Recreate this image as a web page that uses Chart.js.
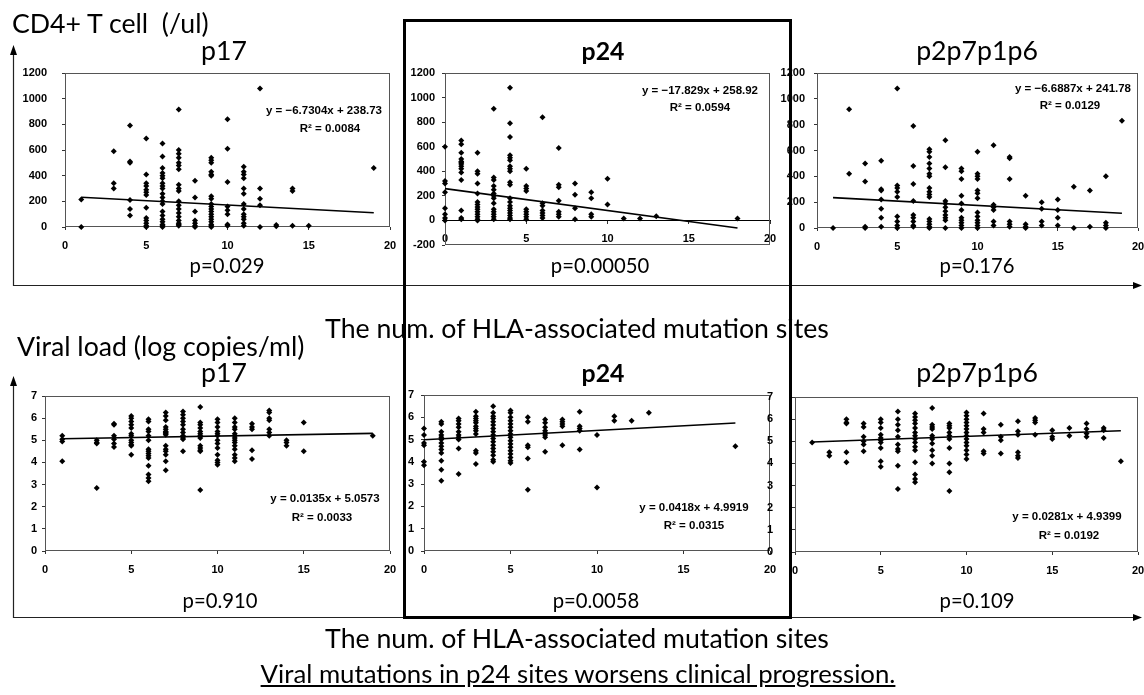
<!DOCTYPE html>
<html><head><meta charset="utf-8">
<script src="https://cdn.jsdelivr.net/npm/chart.js@4.4.1/dist/chart.umd.min.js"></script>
<style>
html,body{margin:0;padding:0;background:#fff;}
#wrap{position:relative;width:1144px;height:695px;overflow:hidden;background:#fff;}
#wrap canvas{position:absolute;}
.t{position:absolute;white-space:pre;color:#000;line-height:1.2;}
#wrap svg{position:absolute;left:0;top:0;}
</style></head><body><div id="wrap"></div>
<script>
// ---------------- DATA ----------------
const panelTitles = ['p17', 'p24', 'p2p7p1p6'];
const rowLabels = ['CD4+ T cell  (/ul)', 'Viral load (log copies/ml)'];
const xAxisTitle = 'The num. of HLA-associated mutation sites';
const conclusion = 'Viral mutations in p24 sites worsens clinical progression.';
const pValuesCD4 = ['p=0.029', 'p=0.00050', 'p=0.176'];
const pValuesVL = ['p=0.910', 'p=0.0058', 'p=0.109'];

const xTickValues = [0, 5, 10, 15, 20];
const cd4TickValues = [0, 200, 400, 600, 800, 1000, 1200];
const cd4P24TickValues = [-200, 0, 200, 400, 600, 800, 1000, 1200];
const vlTickValues = [0, 1, 2, 3, 4, 5, 6, 7];

// [x, [y values at that x]]
const cd4P17 = [
  [1, [215, 0]],
  [3, [590, 340, 300]],
  [4, [790, 510, 500, 210, 140, 90]],
  [5, [690, 410, 340, 320, 290, 270, 250, 150, 70, 50, 30, 10, 0]],
  [6, [650, 550, 460, 420, 400, 380, 340, 320, 300, 260, 230, 200, 180, 120, 90, 60, 40, 20, 10, 0]],
  [7, [915, 600, 570, 540, 500, 480, 450, 330, 300, 280, 200, 170, 140, 110, 80, 50, 30, 20, 10]],
  [8, [360, 230, 120, 50, 30, 10, 0]],
  [9, [540, 520, 500, 430, 410, 400, 240, 220, 180, 160, 140, 120, 100, 80, 60, 40, 20, 10, 0]],
  [10, [840, 610, 350, 160, 130, 100, 20, 10]],
  [11, [470, 430, 410, 380, 300, 260, 180, 140, 100, 80, 60, 30, 10]],
  [12, [1080, 300, 220, 170, 0]],
  [13, [15, 5]],
  [14, [300, 280, 10]],
  [15, [10]],
  [19, [460]]
];
const cd4P24 = [
  [0, [600, 320, 300, 230, 100, 50, 20, 0]],
  [1, [650, 620, 550, 500, 480, 470, 460, 440, 420, 390, 330, 80, 20, 10]],
  [2, [550, 400, 380, 300, 220, 150, 130, 110, 90, 70, 50, 30, 10, 0]],
  [3, [910, 350, 330, 280, 250, 220, 200, 180, 140, 90, 70, 50, 30, 10]],
  [4, [1080, 790, 680, 530, 510, 490, 440, 420, 400, 310, 290, 180, 150, 120, 100, 80, 60, 40, 20, 10]],
  [5, [420, 280, 260, 240, 90, 70, 50, 30, 10]],
  [6, [840, 140, 120, 80, 60, 40, 20]],
  [7, [590, 290, 270, 160, 70, 50, 30]],
  [8, [300, 210, 100, 10]],
  [9, [230, 180, 50, 30]],
  [10, [340, 130]],
  [11, [15]],
  [12, [15]],
  [13, [35]],
  [18, [15]]
];
const cd4P2p7 = [
  [1, [0]],
  [2, [920, 420]],
  [3, [500, 360, 10, 0]],
  [4, [520, 300, 290, 220, 150, 80, 10]],
  [5, [1080, 330, 310, 280, 240, 90, 50, 20, 0]],
  [6, [790, 480, 340, 210, 100, 80, 50, 20, 10]],
  [7, [610, 590, 550, 500, 460, 420, 400, 310, 280, 260, 240, 70, 50, 30, 10, 0]],
  [8, [680, 470, 210, 190, 160, 130, 100, 80, 60, 0]],
  [9, [460, 440, 380, 250, 190, 140, 80, 60, 40, 20, 0]],
  [10, [590, 420, 400, 380, 290, 270, 230, 120, 90, 60, 40, 20, 0]],
  [11, [640, 180, 160, 140, 50, 20]],
  [12, [550, 540, 380, 50, 30, 10]],
  [13, [250, 30, 10, 0]],
  [14, [200, 150, 50, 20]],
  [15, [220, 140, 80, 20]],
  [16, [320, 0]],
  [17, [290, 10]],
  [18, [400, 40, 20, 0]],
  [19, [830]]
];
const vlP17 = [
  [1, [5.2, 5.05, 4.95, 4.05]],
  [3, [5.0, 4.9, 4.85, 2.85]],
  [4, [5.75, 5.7, 5.2, 5.05, 4.85, 4.7]],
  [5, [6.1, 6.0, 5.85, 5.7, 5.55, 5.3, 5.2, 5.0, 4.9, 4.8, 4.75, 4.35]],
  [6, [5.95, 5.85, 5.5, 5.4, 5.2, 5.0, 4.6, 4.5, 4.4, 4.3, 4.2, 3.85, 3.45, 3.3, 3.15]],
  [7, [6.25, 6.1, 5.9, 5.6, 5.5, 5.4, 5.35, 5.3, 5.25, 4.75, 4.6, 4.5, 4.35, 4.05, 3.65]],
  [8, [6.3, 6.15, 6.0, 5.85, 5.7, 5.5, 5.35, 5.2, 5.1, 5.05, 4.5]],
  [9, [6.5, 5.8, 5.7, 5.55, 5.4, 5.3, 5.2, 5.1, 4.75, 4.65, 4.55, 4.5, 2.75]],
  [10, [5.95, 5.8, 5.6, 5.4, 5.3, 5.2, 5.0, 4.85, 4.65, 4.35, 4.1, 4.0, 3.9]],
  [11, [6.0, 5.8, 5.6, 5.5, 5.3, 5.2, 5.1, 5.0, 4.9, 4.75, 4.6, 4.35, 4.2, 4.05]],
  [12, [5.75, 5.6, 5.5, 4.55, 4.15]],
  [13, [6.35, 6.25, 6.0, 5.9, 5.5, 5.35, 5.2]],
  [14, [5.0, 4.9, 4.75]],
  [15, [5.8, 4.5]],
  [19, [5.2]]
];
const vlP24 = [
  [0, [5.5, 5.2, 4.85, 4.75, 4.0, 3.85]],
  [1, [5.8, 5.7, 5.35, 5.2, 5.1, 5.0, 4.85, 4.7, 4.55, 4.4, 4.05, 3.65, 3.15]],
  [2, [5.95, 5.85, 5.7, 5.55, 5.35, 5.2, 5.1, 5.0, 4.6, 3.45]],
  [3, [6.25, 6.05, 5.95, 5.85, 5.75, 5.6, 5.5, 5.4, 5.25, 4.5, 4.4, 3.9]],
  [4, [6.5, 6.2, 6.05, 5.95, 5.8, 5.65, 5.5, 5.35, 5.2, 5.05, 4.9, 4.75, 4.6, 4.45, 4.3, 4.1, 4.0]],
  [5, [6.3, 6.2, 6.0, 5.85, 5.7, 5.55, 5.4, 5.25, 5.1, 4.95, 4.8, 4.65, 4.5, 4.35, 4.2, 4.05, 3.95]],
  [6, [6.0, 5.8, 4.75, 4.65, 4.15, 2.75]],
  [7, [5.9, 5.75, 5.55, 5.4, 5.3, 5.2, 5.1, 4.45]],
  [8, [5.9, 5.8, 5.7, 5.6, 4.75]],
  [9, [6.25, 5.6, 5.5, 5.4, 4.55]],
  [10, [5.2, 2.85]],
  [11, [6.05, 5.85]],
  [12, [5.85]],
  [13, [6.2]],
  [18, [4.7]]
];
const vlP2p7 = [
  [1, [4.95]],
  [2, [4.5, 4.35]],
  [3, [6.0, 5.85, 5.8, 4.5, 4.05]],
  [4, [5.8, 5.65, 5.2, 5.0, 4.85, 4.55]],
  [5, [6.0, 5.85, 5.6, 5.3, 5.15, 5.05, 4.95, 4.7, 4.1, 3.85]],
  [6, [6.35, 6.0, 5.75, 5.5, 5.2, 4.85, 4.65, 4.55, 3.9, 2.85]],
  [7, [6.25, 6.1, 5.95, 5.8, 5.6, 5.4, 5.25, 5.1, 4.95, 4.75, 4.6, 4.05, 3.5, 3.3, 3.15]],
  [8, [6.5, 5.75, 5.65, 5.55, 5.25, 5.1, 4.9, 4.6, 4.35, 4.0]],
  [9, [5.8, 5.7, 5.6, 5.4, 5.25, 5.1, 4.7, 4.0, 3.6, 2.75]],
  [10, [6.3, 6.15, 6.0, 5.85, 5.7, 5.55, 5.4, 5.25, 5.1, 4.95, 4.8, 4.6, 4.4, 4.2]],
  [11, [6.25, 5.55, 5.4, 4.55, 4.45]],
  [12, [5.75, 5.2, 5.05, 4.45]],
  [13, [5.9, 5.45, 5.3, 4.5, 4.35, 4.25]],
  [14, [6.05, 5.95, 5.85, 5.3]],
  [15, [5.5, 5.2, 5.1]],
  [16, [5.6, 5.25]],
  [17, [5.8, 5.55, 5.35, 5.2]],
  [18, [5.6, 5.5, 5.15]],
  [19, [4.1]]
];

// trendline equations as printed on each panel
const slopes = [-6.7304, -17.829, -6.6887, 0.0135, 0.0418, 0.0281];
const intercepts = [238.73, 258.92, 241.78, 5.0573, 4.9919, 4.9399];
const eqLines = ['y = −6.7304x + 238.73', 'y = −17.829x + 258.92', 'y = −6.6887x + 241.78',
                 'y = 0.0135x + 5.0573', 'y = 0.0418x + 4.9919', 'y = 0.0281x + 4.9399'];
const r2Lines = ['R² = 0.0084', 'R² = 0.0594', 'R² = 0.0129', 'R² = 0.0033', 'R² = 0.0315', 'R² = 0.0192'];

// ---------------- LAYOUT ----------------
const wrap = document.getElementById('wrap');
const panels = [
  { data: cd4P17,  yTicks: cd4TickValues,    area: {l: 65,  r: 390,  t: 73,  b: 227}, yGap: 18, eq: [324, 114, 330, 132] },
  { data: cd4P24,  yTicks: cd4P24TickValues, area: {l: 445, r: 770,  t: 73,  b: 245}, yGap: 10, eq: [700, 94, 700, 111], xAtZero: true },
  { data: cd4P2p7, yTicks: cd4TickValues,    area: {l: 817, r: 1138, t: 73,  b: 228}, yGap: 12, eq: [1073, 92, 1070, 109] },
  { data: vlP17,   yTicks: vlTickValues,     area: {l: 45,  r: 390,  t: 396, b: 551}, yGap: 8,  eq: [325, 502, 322, 521] },
  { data: vlP24,   yTicks: vlTickValues,     area: {l: 424, r: 770,  t: 395, b: 551}, yGap: 10, eq: [694, 511, 694, 529] },
  { data: vlP2p7,  yTicks: vlTickValues,     area: {l: 795, r: 1138, t: 397, b: 552}, yGap: 22, eq: [1067, 520, 1069, 539] }
];

const tickFont = { family: 'Liberation Sans', size: 11, weight: 'bold' };

const framePlugin = {
  id: 'frame',
  beforeDatasetsDraw(chart) {
    const { ctx, chartArea: a } = chart;
    ctx.save();
    ctx.strokeStyle = '#555';
    ctx.lineWidth = 1;
    ctx.strokeRect(Math.round(a.left) + 0.5, Math.round(a.top) + 0.5,
                   Math.round(a.right - a.left) - 1, Math.round(a.bottom - a.top) - 1);
    ctx.restore();
  }
};

function makePanel(cfg, i) {
  const Wy = cfg.yGap + 34, padTop = 10, padRight = 12;
  const Hx = cfg.xAtZero ? 0 : 32;
  const padBottom = cfg.xAtZero ? 8 : 0;
  const A = cfg.area;
  const W = (A.r - A.l) + Wy + padRight;
  const H = (A.b - A.t) + padTop + Hx + padBottom;
  const c = document.createElement('canvas');
  c.width = W; c.height = H;
  c.style.width = W + 'px'; c.style.height = H + 'px';
  c.style.left = (A.l - Wy) + 'px'; c.style.top = (A.t - padTop) + 'px';
  wrap.appendChild(c);

  const pts = [];
  cfg.data.forEach(([x, ys]) => ys.forEach(y => pts.push({ x, y })));
  const xs = cfg.data.map(g => g[0]);
  const x0 = Math.min(...xs), x1 = Math.max(...xs);
  const m = slopes[i], b = intercepts[i];

  new Chart(c, {
    type: 'scatter',
    data: { datasets: [
      { data: [{ x: x0, y: m * x0 + b }, { x: x1, y: m * x1 + b }], showLine: true,
        borderColor: '#000', borderWidth: 1.6, pointRadius: 0, fill: false, clip: false },
      { data: pts, pointStyle: 'rectRot', pointRadius: 3, backgroundColor: '#000',
        borderColor: '#000', borderWidth: 0, clip: false }
    ]},
    options: {
      responsive: false, animation: false, devicePixelRatio: 1, events: [],
      layout: { padding: { top: padTop, right: padRight, left: 0, bottom: padBottom } },
      plugins: { legend: { display: false }, tooltip: { enabled: false } },
      scales: {
        x: {
          type: 'linear', min: xTickValues[0], max: xTickValues[xTickValues.length - 1],
          position: cfg.xAtZero ? { y: 0 } : 'bottom',
          afterBuildTicks: s => { s.ticks = xTickValues.map(v => ({ value: v })); },
          afterFit: s => { if (!cfg.xAtZero) s.height = Hx; s.paddingLeft = 0; s.paddingRight = 0; },
          grid: { drawOnChartArea: false, drawTicks: true, tickLength: 3, color: '#333' },
          border: { display: !!cfg.xAtZero, color: '#000', width: 1 },
          ticks: { padding: 9, color: '#000', font: tickFont, maxRotation: 0, autoSkip: false,
                   callback: v => String(v) }
        },
        y: {
          type: 'linear', min: cfg.yTicks[0], max: cfg.yTicks[cfg.yTicks.length - 1],
          afterBuildTicks: s => { s.ticks = cfg.yTicks.map(v => ({ value: v })); },
          afterFit: s => { s.width = Wy; s.paddingTop = 0; s.paddingBottom = 0; },
          grid: { drawOnChartArea: false, drawTicks: true, tickLength: 3, color: '#333' },
          border: { display: false },
          ticks: { padding: cfg.yGap - 3, color: '#000', font: tickFont, autoSkip: false,
                   callback: v => String(v) }
        }
      }
    },
    plugins: [framePlugin]
  });
}

panels.forEach(makePanel);

// ---------------- FRAMES (decoration) ----------------
const svgNS = 'http://www.w3.org/2000/svg';
const svg = document.createElementNS(svgNS, 'svg');
svg.setAttribute('width', 1144); svg.setAttribute('height', 695);
svg.innerHTML = `
  <polyline points="13.5,52 13.5,285.5 1135,285.5" fill="none" stroke="#222" stroke-width="1.2"/>
  <polygon points="13.5,45 10,55 17,55" fill="#000"/>
  <polygon points="1142,285.5 1133,282 1133,289" fill="#000"/>
  <polyline points="13.5,384 13.5,617.5 1135,617.5" fill="none" stroke="#222" stroke-width="1.2"/>
  <polygon points="13.5,376 10,386 17,386" fill="#000"/>
  <polygon points="1142,617.5 1133,614 1133,621" fill="#000"/>
  <rect x="404.5" y="20.5" width="386" height="597" fill="none" stroke="#000" stroke-width="3"/>
`;
wrap.appendChild(svg);

// ---------------- TEXT ----------------
function addText(str, o) {
  const d = document.createElement('div');
  d.className = 't';
  d.style.fontFamily = o.family || 'Lato, "Open Sans", sans-serif';
  d.style.fontSize = o.size + 'px';
  d.style.fontWeight = o.bold ? '700' : '400';
  if (o.underline) d.style.textDecoration = 'underline';
  d.appendChild(document.createTextNode(str));
  const mk = document.createElement('span');
  mk.style.cssText = 'display:inline-block;width:0;height:0;vertical-align:baseline;';
  d.appendChild(mk);
  d.style.left = '0px'; d.style.top = '0px';
  wrap.appendChild(d);
  const w = d.getBoundingClientRect().width;
  const bo = mk.offsetTop;
  const left = (o.cx !== undefined) ? o.cx - w / 2 : o.x;
  d.style.left = left + 'px';
  d.style.top = (o.base - bo) + 'px';
  return w;
}
function measure(str, size) {
  const s = document.createElement('span');
  s.style.cssText = 'position:absolute;white-space:pre;visibility:hidden;font-family:Lato,"Open Sans",sans-serif;font-size:' + size + 'px;';
  s.textContent = str;
  document.body.appendChild(s);
  const w = s.getBoundingClientRect().width;
  s.remove();
  return w;
}
// scale Lato so that the axis caption has the reference width (504 px)
const k = 504 / measure(xAxisTitle, 29);

addText(rowLabels[0], { x: 12, base: 33, size: 29 * k });
addText(rowLabels[1], { x: 17, base: 356, size: 29 * k });
addText(xAxisTitle, { cx: 577, base: 338, size: 29 * k });
addText(xAxisTitle, { cx: 577, base: 648, size: 29 * k });
addText(conclusion, { cx: 578, base: 683, size: 28 * k, underline: true });

const titleCx = [224, 603, 977];
[60, 382].forEach(base => {
  panelTitles.forEach((t, j) => addText(t, { cx: titleCx[j], base, size: (j === 1 ? 27 : 29) * k, bold: j === 1 }));
});
const pTopCx = [227, 600, 977], pBotCx = [220, 596, 977];
pValuesCD4.forEach((t, j) => addText(t, { cx: pTopCx[j], base: 273, size: 22 * k }));
pValuesVL.forEach((t, j) => addText(t, { cx: pBotCx[j], base: 608, size: 22 * k }));

panels.forEach((p, i) => {
  const f = { family: '"Liberation Sans", Arial, sans-serif', size: 11.5, bold: true };
  addText(eqLines[i], Object.assign({ cx: p.eq[0], base: p.eq[1] }, f));
  addText(r2Lines[i], Object.assign({ cx: p.eq[2], base: p.eq[3] }, f));
});
</script></body></html>
